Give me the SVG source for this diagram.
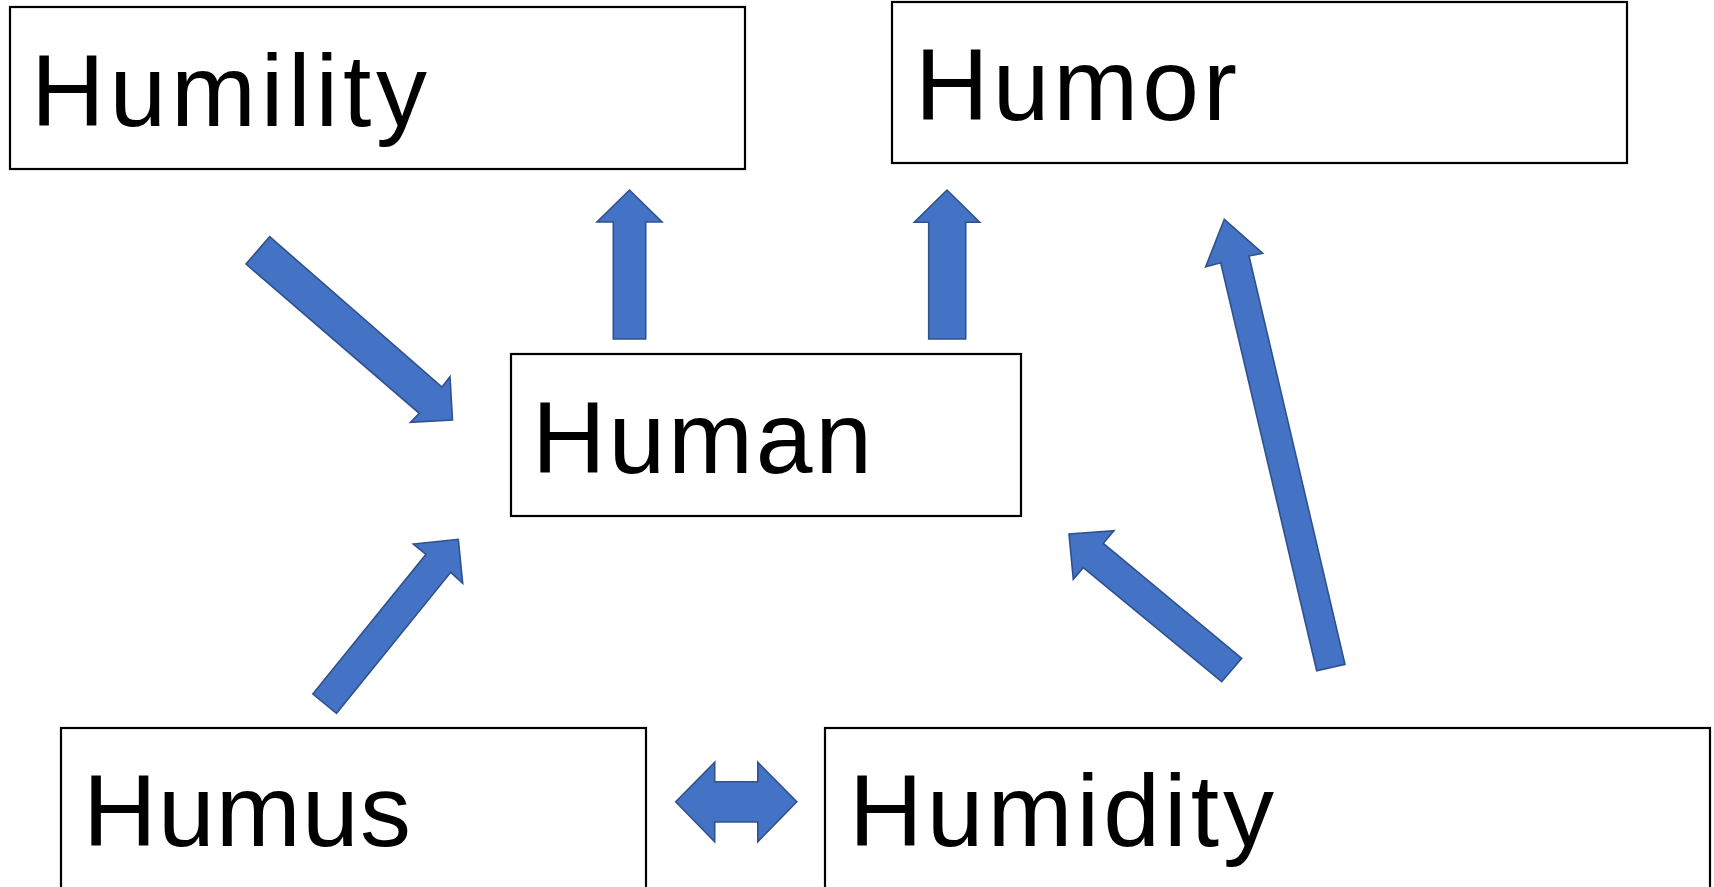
<svg xmlns="http://www.w3.org/2000/svg" width="1714" height="887" viewBox="0 0 1714 887">
<style>
.box{fill:#fff;stroke:#000;stroke-width:2.2}
.lbl{font-family:"Liberation Sans",Arial,sans-serif;font-size:102px;fill:#000}
.arr{fill:#4472C4;stroke:#2F528F;stroke-width:1.6;stroke-linejoin:miter}
</style>
<rect width="1714" height="887" fill="#fff"/>
<g id="humility"><rect class="box" x="10" y="7" width="735" height="162"/><text class="lbl" x="31" y="126" textLength="396">Humility</text></g>
<g id="humor"><rect class="box" x="892" y="2" width="735" height="161"/><text class="lbl" x="915" y="120" textLength="322">Humor</text></g>
<g id="human"><rect class="box" x="511" y="354" width="510" height="162"/><text class="lbl" x="532" y="473" textLength="340">Human</text></g>
<g id="humus"><rect class="box" x="61" y="728" width="585" height="170"/><text class="lbl" x="83" y="846" textLength="328">Humus</text></g>
<g id="humidity"><rect class="box" x="825" y="728" width="885" height="170"/><text class="lbl" x="849" y="846" textLength="425">Humidity</text></g>
<g id="connectors">
<polygon class="arr" points="246,264 269.7,236.7 442,387 450,376.7 452.5,420 410.5,422.3 419.3,413.3"/>
<polygon class="arr" points="613.3,339 613.3,222 597,222 629.5,190 662,222 645.7,222 645.7,339"/>
<polygon class="arr" points="928.7,339 928.7,222.3 914.3,222.3 947,190 979.7,222.3 965.7,222.3 965.7,339"/>
<polygon class="arr" points="312.8,694 426,554.3 413.3,544 458.3,539.3 462.7,583.3 450.7,572.3 336.5,713.3"/>
<polygon class="arr" points="1241.7,658.3 1103.3,543.3 1114,530.7 1069,534 1073.3,579.3 1083.3,567.7 1221.7,681.7"/>
<polygon class="arr" points="1316.7,670.7 1220.7,262.7 1205.7,266.7 1224.3,219.3 1262.7,253.3 1249,256 1345,664.3"/>
<polygon class="arr" points="675.7,801.7 714.7,762.3 714.7,781.7 757.8,781.7 757.8,762.3 796.8,801.7 757.8,841.7 757.8,822 714.7,822 714.7,841.7"/>
</g>
</svg>
